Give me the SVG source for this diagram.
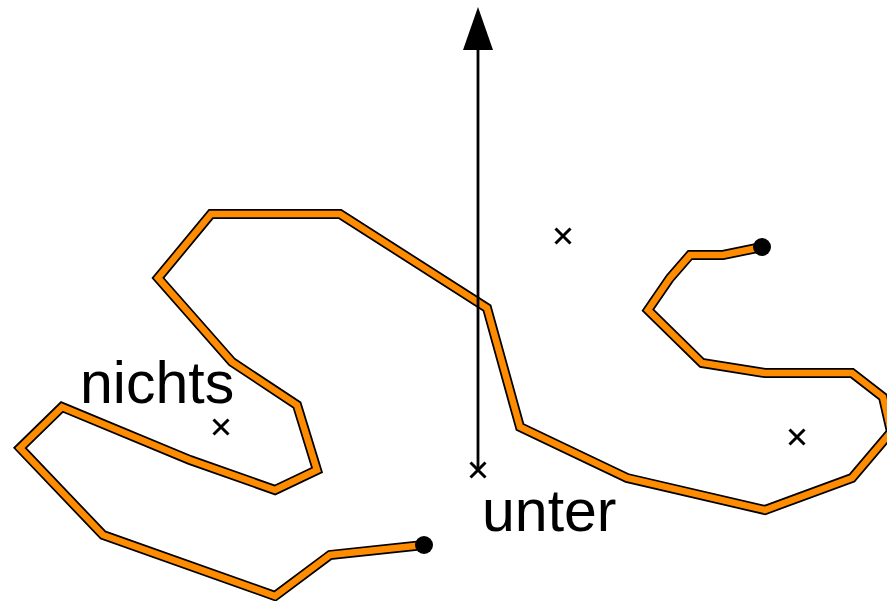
<svg xmlns="http://www.w3.org/2000/svg" width="887" height="601" viewBox="0 0 887 601">
<style>
.out{fill:none;stroke:#000;stroke-width:10;stroke-linejoin:miter;stroke-miterlimit:4}
.in{fill:none;stroke:#ff8c00;stroke-width:6.5;stroke-linejoin:miter;stroke-miterlimit:4}
.cross{stroke:#000;stroke-width:3;fill:none}
.lbl{font-family:"Liberation Sans",Arial,sans-serif;font-size:59px;fill:#000}
</style>
<g id="curve">
<polyline class="out" points="424,545 330,555 275,596 103,535 20,448 62,407 190,460 275,490 317,470 297,405 232,362 158,278 211,214 340,214 487,308 520,427 627,478 765,510 852,478 891,432 883,397 852,373 765,373 702,363 648,310 670,278 690,255 723,255 762,247"/>
<polyline class="in" points="424,545 330,555 275,596 103,535 20,448 62,407 190,460 275,490 317,470 297,405 232,362 158,278 211,214 340,214 487,308 520,427 627,478 765,510 852,478 891,432 883,397 852,373 765,373 702,363 648,310 670,278 690,255 723,255 762,247"/>
<circle cx="424" cy="545" r="9" fill="#000"/>
<circle cx="762" cy="247" r="9" fill="#000"/>
</g>
<g id="connectors">
<line x1="478" y1="470" x2="478" y2="50" stroke="#000" stroke-width="2.8"/>
<path d="M478 7 L493 50 L463 50 Z" fill="#000"/>
</g>
<g id="markers">
<path class="cross" d="M213.5 419.5 L228.5 434.5 M228.5 419.5 L213.5 434.5"/>
<path class="cross" d="M555.5 228.5 L570.5 243.5 M570.5 228.5 L555.5 243.5"/>
<path class="cross" d="M789.5 429.5 L804.5 444.5 M804.5 429.5 L789.5 444.5"/>
<path class="cross" d="M470.5 462.5 L485.5 477.5 M485.5 462.5 L470.5 477.5"/>
</g>
<g id="labels">
<text class="lbl" x="80" y="403">nichts</text>
<text class="lbl" x="482" y="531">unter</text>
</g>
</svg>
